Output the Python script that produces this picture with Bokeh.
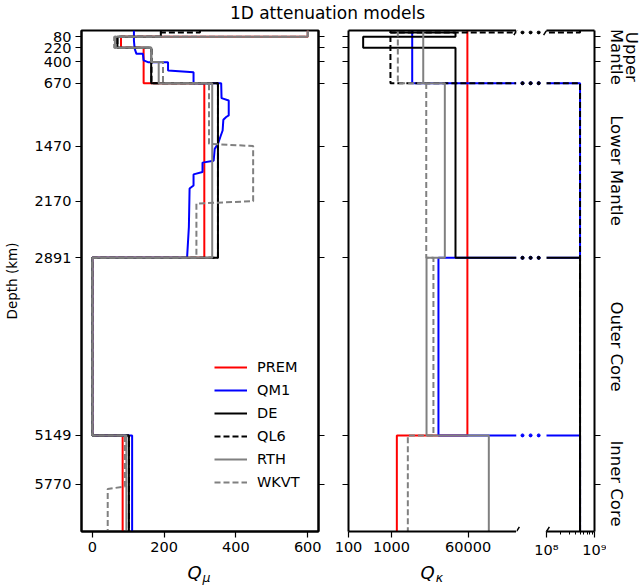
import numpy as np
from bokeh.plotting import figure
from bokeh.models import (Range1d, FixedTicker, LinearAxis, LogAxis, Legend, LegendItem,
                          NumeralTickFormatter, CustomJSTickFormatter)
from bokeh.layouts import row, column
from bokeh.embed import file_html
from bokeh.resources import INLINE
from bokeh.core.properties import value

FONT = "DejaVu Sans"
TITLE = "1D attenuation models"

# ---------------- axes / categories ----------------
DEPTH_MAX = 6371
DEPTH_TICKS = [80, 220, 400, 670, 1470, 2170, 2891, 5149, 5770]
QMU_RANGE = (-30, 630)
QMU_TICKS = [0, 200, 400, 600]
QK_LOW_RANGE = (100, 8e5)
QK_LOW_TICKS = [100, 1000, 60000]
QK_HIGH_RANGE = (1e8, 1e9)
QK_HIGH_TICKS = [1e8, 1e9]
QK_HIGH_MINOR = [2e8, 3e8, 4e8, 5e8, 6e8, 7e8, 8e8, 9e8]
XLABEL_MAIN = ["Q", "Q"]
XLABEL_SUB = ["\u03bc", "\u03ba"]

REGION_NAMES = ["Upper\nMantle", "Lower Mantle", "Outer Core", "Inner Core"]
REGION_TOP = [0, 670, 2891, 5149]
REGION_BOTTOM = [670, 2891, 5149, 6371]

MODEL_NAMES = ["PREM", "QM1", "DE", "QL6", "RTH", "WKVT"]
MODEL_COLORS = ["red", "blue", "black", "black", "gray", "gray"]
MODEL_DASH = ["solid", "solid", "solid", "6 3", "solid", "6 3"]

# ---------------- Q_mu (shear) ----------------
PREM_QMU_BOUNDS = [0, 80, 220, 670, 2891, 5149, 6371]
PREM_QMU = [600, 80, 143, 312, 0, 84.6]

QM1_QMU_DEPTH = [0, 130, 230, 297, 297, 380, 403, 403, 510, 530, 670, 670, 860, 890, 1080,
                 1100, 1136, 1272, 1335, 1441, 1505, 1655, 1680, 1800, 1830, 1970, 2010,
                 2500, 2891, 2891, 5149, 5149, 6371]
QM1_QMU = [116, 116, 118, 123, 141, 143, 155, 211, 211, 282, 282, 359, 360, 380, 380,
           373, 365, 363, 358, 350, 341, 338, 307, 307, 282, 282, 271,
           269, 264, 0, 0, 111, 111]

DE_QMU_BOUNDS = [0, 80, 220, 670, 2891, 5149, 6371]
DE_QMU = [191, 70, 164, 350, 0, 102]

QL6_QMU_BOUNDS = [0, 24, 80, 220, 670, 2891, 5149, 6371]
QL6_QMU = [300, 191, 70, 165, 350, 0, 102]

RTH_QMU_BOUNDS = [0, 80, 220, 400, 670, 2891, 5149, 6371]
RTH_QMU = [600, 63, 164, 185, 334, 0, 95]

WKVT_QMU_DEPTH = [0, 80, 80, 220, 220, 400, 400, 670, 670, 1440, 1470, 2170, 2200,
                  2891, 2891, 5149, 5149, 5800, 5830, 6371]
WKVT_QMU = [600, 600, 61, 61, 164, 164, 197, 197, 325, 325, 448, 448, 290,
            290, 0, 0, 91, 91, 43, 43]

# ---------------- Q_kappa (bulk) ----------------
PREM_QK_BOUNDS = [0, 5149, 6371]
PREM_QK = [57823, 1327.7]
QM1_QK_BOUNDS = [0, 670, 2891, 5149, 6371]
QM1_QK = [3020, 5e8, 12300, 5e8]
DE_QK_BOUNDS = [0, 24, 80, 220, 2891, 6371]
DE_QK = [943, 30600, 219, 30600, 5e8]
QL6_QK_BOUNDS = [0, 24, 670, 6371]
QL6_QK = [5e8, 943, 5e8]
RTH_QK_BOUNDS = [0, 670, 2891, 5149, 6371]
RTH_QK = [5450, 17300, 6500, 182000]
WKVT_QK_BOUNDS = [0, 670, 2891, 5149, 6371]
WKVT_QK = [1400, 6400, 9400, 2390]


def layer_profile(bounds, vals):
    d, q = [], []
    for i, v in enumerate(vals):
        d.extend([bounds[i], bounds[i + 1]])
        q.extend([v, v])
    return d, q


QMU_PROFILES = {
    "PREM": layer_profile(PREM_QMU_BOUNDS, PREM_QMU),
    "QM1": (QM1_QMU_DEPTH, QM1_QMU),
    "DE": layer_profile(DE_QMU_BOUNDS, DE_QMU),
    "QL6": layer_profile(QL6_QMU_BOUNDS, QL6_QMU),
    "RTH": layer_profile(RTH_QMU_BOUNDS, RTH_QMU),
    "WKVT": (WKVT_QMU_DEPTH, WKVT_QMU),
}
QK_LAYERS = {
    "PREM": (PREM_QK_BOUNDS, PREM_QK),
    "QM1": (QM1_QK_BOUNDS, QM1_QK),
    "DE": (DE_QK_BOUNDS, DE_QK),
    "QL6": (QL6_QK_BOUNDS, QL6_QK),
    "RTH": (RTH_QK_BOUNDS, RTH_QK),
    "WKVT": (WKVT_QK_BOUNDS, WKVT_QK),
}

# ---------------- layout constants ----------------
TOP_B = 8
BOT_B = 30
FIG_H = 539
STRIP_H = 26
GAP_PX = 30
HIGH_PX = 48
X_START_HIGH = QK_HIGH_RANGE[0] / 10 ** (GAP_PX / HIGH_PX * np.log10(QK_HIGH_RANGE[1] / QK_HIGH_RANGE[0]))

BLANK = CustomJSTickFormatter(code='return ""')


def style_axis(ax, labels=True, ticks=True):
    ax.axis_line_color = "black"
    ax.axis_line_width = 2
    ax.major_tick_line_color = "black"
    ax.major_tick_line_width = 1.2
    ax.major_tick_out = 6 if ticks else 0
    ax.major_tick_in = 0
    ax.minor_tick_line_color = "black"
    ax.minor_tick_out = 3 if ticks else 0
    ax.minor_tick_in = 0
    ax.major_label_text_font = FONT
    ax.major_label_text_font_size = "14.5px"
    ax.major_label_text_color = "black"
    ax.major_label_standoff = 4 if labels else 0
    if not labels:
        ax.formatter = BLANK


def base_fig(**kw):
    p = figure(height=FIG_H, output_backend="svg", toolbar_location=None,
               min_border_top=TOP_B, min_border_bottom=BOT_B, **kw)
    p.xgrid.visible = False
    p.ygrid.visible = False
    return p


def text_strip(width, height):
    p = figure(width=width, height=height, x_range=Range1d(0, width), y_range=Range1d(0, height),
               output_backend="svg", toolbar_location=None, min_border=0,
               x_axis_location=None, y_axis_location=None)
    p.outline_line_color = None
    p.xgrid.visible = False
    p.ygrid.visible = False
    return p


y_range = Range1d(DEPTH_MAX, 0)

# ================= Panel A: Q_mu =================
pA = base_fig(width=333, x_range=Range1d(*QMU_RANGE), y_range=y_range,
              min_border_left=80, min_border_right=15)
pA.outline_line_color = "black"
pA.outline_line_width = 2
pA.outline_line_alpha = 1
style_axis(pA.xaxis[0])
style_axis(pA.yaxis[0])
pA.xaxis.ticker = FixedTicker(ticks=QMU_TICKS)
pA.yaxis.ticker = FixedTicker(ticks=DEPTH_TICKS)
pA.yaxis.axis_label = "Depth (km)"
pA.yaxis.axis_label_text_font = FONT
pA.yaxis.axis_label_text_font_size = "13.5px"
pA.yaxis.axis_label_text_font_style = "normal"
pA.yaxis.axis_label_text_color = "black"
pA.yaxis.axis_label_standoff = 12
rA = LinearAxis(ticker=FixedTicker(ticks=DEPTH_TICKS))
style_axis(rA, labels=False)
pA.add_layout(rA, "right")

renderers = []
for name, color, dash in zip(MODEL_NAMES, MODEL_COLORS, MODEL_DASH):
    d, q = QMU_PROFILES[name]
    r = pA.line(q, d, line_color=color, line_width=2, line_dash=dash)
    renderers.append(r)

legend = Legend(items=[LegendItem(label=n, renderers=[r]) for n, r in zip(MODEL_NAMES, renderers)],
                location=(133, 39), border_line_color=None, background_fill_alpha=0,
                label_text_font=FONT, label_text_font_size="14.5px", label_text_color="black",
                glyph_width=33, glyph_height=20, label_height=20, spacing=3, padding=10, margin=0,
                label_standoff=10)
pA.add_layout(legend)

# ================= Panel B: Q_kappa low part =================
pB = base_fig(width=183, x_axis_type="log", x_range=Range1d(*QK_LOW_RANGE), y_range=y_range,
              min_border_left=15, min_border_right=0)
pB.outline_line_color = None
style_axis(pB.xaxis[0])
style_axis(pB.yaxis[0], labels=False)
pB.xaxis.ticker = FixedTicker(ticks=QK_LOW_TICKS)
pB.xaxis.formatter = NumeralTickFormatter(format="0")
pB.yaxis.ticker = FixedTicker(ticks=DEPTH_TICKS)
topB = LogAxis(ticker=FixedTicker(ticks=[]))
style_axis(topB, labels=False, ticks=False)
pB.add_layout(topB, "above")

# ================= Panel D: gap + Q_kappa high part =================
pD = base_fig(width=GAP_PX + HIGH_PX + 12, x_axis_type="log",
              x_range=Range1d(X_START_HIGH, QK_HIGH_RANGE[1]), y_range=y_range,
              y_axis_location="right", min_border_left=0, min_border_right=12)
pD.outline_line_color = None
style_axis(pD.xaxis[0])
style_axis(pD.yaxis[0], labels=False)
pD.xaxis.ticker = FixedTicker(ticks=QK_HIGH_TICKS, minor_ticks=QK_HIGH_MINOR)
pD.xaxis.bounds = QK_HIGH_RANGE
pD.xaxis.formatter = CustomJSTickFormatter(code="""
const sup = {"0":"\u2070","1":"\u00b9","2":"\u00b2","3":"\u00b3","4":"\u2074","5":"\u2075","6":"\u2076","7":"\u2077","8":"\u2078","9":"\u2079"};
const e = String(Math.round(Math.log10(tick)));
return "10" + e.split("").map(c => sup[c]).join("");
""")
pD.yaxis.ticker = FixedTicker(ticks=DEPTH_TICKS)
topD = LogAxis(ticker=FixedTicker(ticks=[]), bounds=QK_HIGH_RANGE)
style_axis(topD, labels=False, ticks=False)
pD.add_layout(topD, "above")

for name, color, dash in zip(MODEL_NAMES, MODEL_COLORS, MODEL_DASH):
    b, v = QK_LAYERS[name]
    d, q = layer_profile(b, v)
    pB.line(q, d, line_color=color, line_width=2, line_dash=dash)
    pD.line(q, d, line_color=color, line_width=2, line_dash=dash)

# blank out the axis break, then mark crossing lines with dots
pD.quad(left=X_START_HIGH / 10, right=QK_HIGH_RANGE[0], top=0, bottom=DEPTH_MAX,
        fill_color="white", line_color=None)
lg0, lg1 = np.log10(X_START_HIGH), np.log10(QK_HIGH_RANGE[0])
for name, color in zip(MODEL_NAMES, MODEL_COLORS):
    b, v = QK_LAYERS[name]
    xs, ys = [], []
    for i in range(len(v) - 1):
        lo, hi = sorted([v[i], v[i + 1]])
        if lo < QK_LOW_RANGE[1] and hi > QK_HIGH_RANGE[0]:
            for f in (0.2, 0.47, 0.74):
                xs.append(10 ** (lg0 + f * (lg1 - lg0)))
                ys.append(b[i + 1])
    if xs:
        pD.scatter(xs, ys, size=3, color=color, marker="circle")

# break marks (diagonal strokes at the broken spines)
BRK_DX = 0.06   # in decades
BRK_DD = 60     # in km
for fig, xv in [(pB, QK_LOW_RANGE[1]), (pD, X_START_HIGH), (pD, QK_HIGH_RANGE[0])]:
    for yv in (0, DEPTH_MAX):
        fig.segment(x0=[xv / 10 ** BRK_DX], y0=[yv + BRK_DD], x1=[xv * 10 ** BRK_DX], y1=[yv - BRK_DD],
                    line_color="black", line_width=1.5)

# region names on the right
pE = figure(width=36, height=FIG_H, x_range=Range1d(0, 36), y_range=y_range,
            output_backend="svg", toolbar_location=None, min_border_left=0, min_border_right=0,
            min_border_top=TOP_B, min_border_bottom=BOT_B, x_axis_location=None, y_axis_location=None)
pE.outline_line_color = None
pE.xgrid.visible = False
pE.ygrid.visible = False
pE.text(x=[0] * len(REGION_NAMES), y=[(t + b) / 2 for t, b in zip(REGION_TOP, REGION_BOTTOM)],
        text=REGION_NAMES, angle=-np.pi / 2, text_align="center", text_baseline="bottom",
        text_font=value(FONT), text_font_size="16.5px", text_line_height=0.82, text_color="black")

# title strip
pT = text_strip(642, 22)
pT.text(x=[327], y=[9.5], text=[TITLE], text_align="center", text_baseline="middle",
        text_font=value(FONT), text_font_size="17px", text_color="black")

# x-axis label strip (Q with subscripts); strip spans y = 561..587 of the page
pL = text_strip(642, STRIP_H)
XLABEL_POS = [194, 427]
pL.text(x=XLABEL_POS, y=[15, 15], text=XLABEL_MAIN, text_align="center", text_baseline="middle",
        text_font=value(FONT), text_font_size="18px", text_font_style="italic", text_color="black")
pL.text(x=[x + 12 for x in XLABEL_POS], y=[10, 10], text=XLABEL_SUB, text_align="center",
        text_baseline="middle", text_font=value(FONT), text_font_size="12.5px",
        text_font_style="italic", text_color="black")

layout = column(pT, row(pA, pB, pD, pE), pL)
open("out.html", "w").write(file_html(layout, INLINE))
